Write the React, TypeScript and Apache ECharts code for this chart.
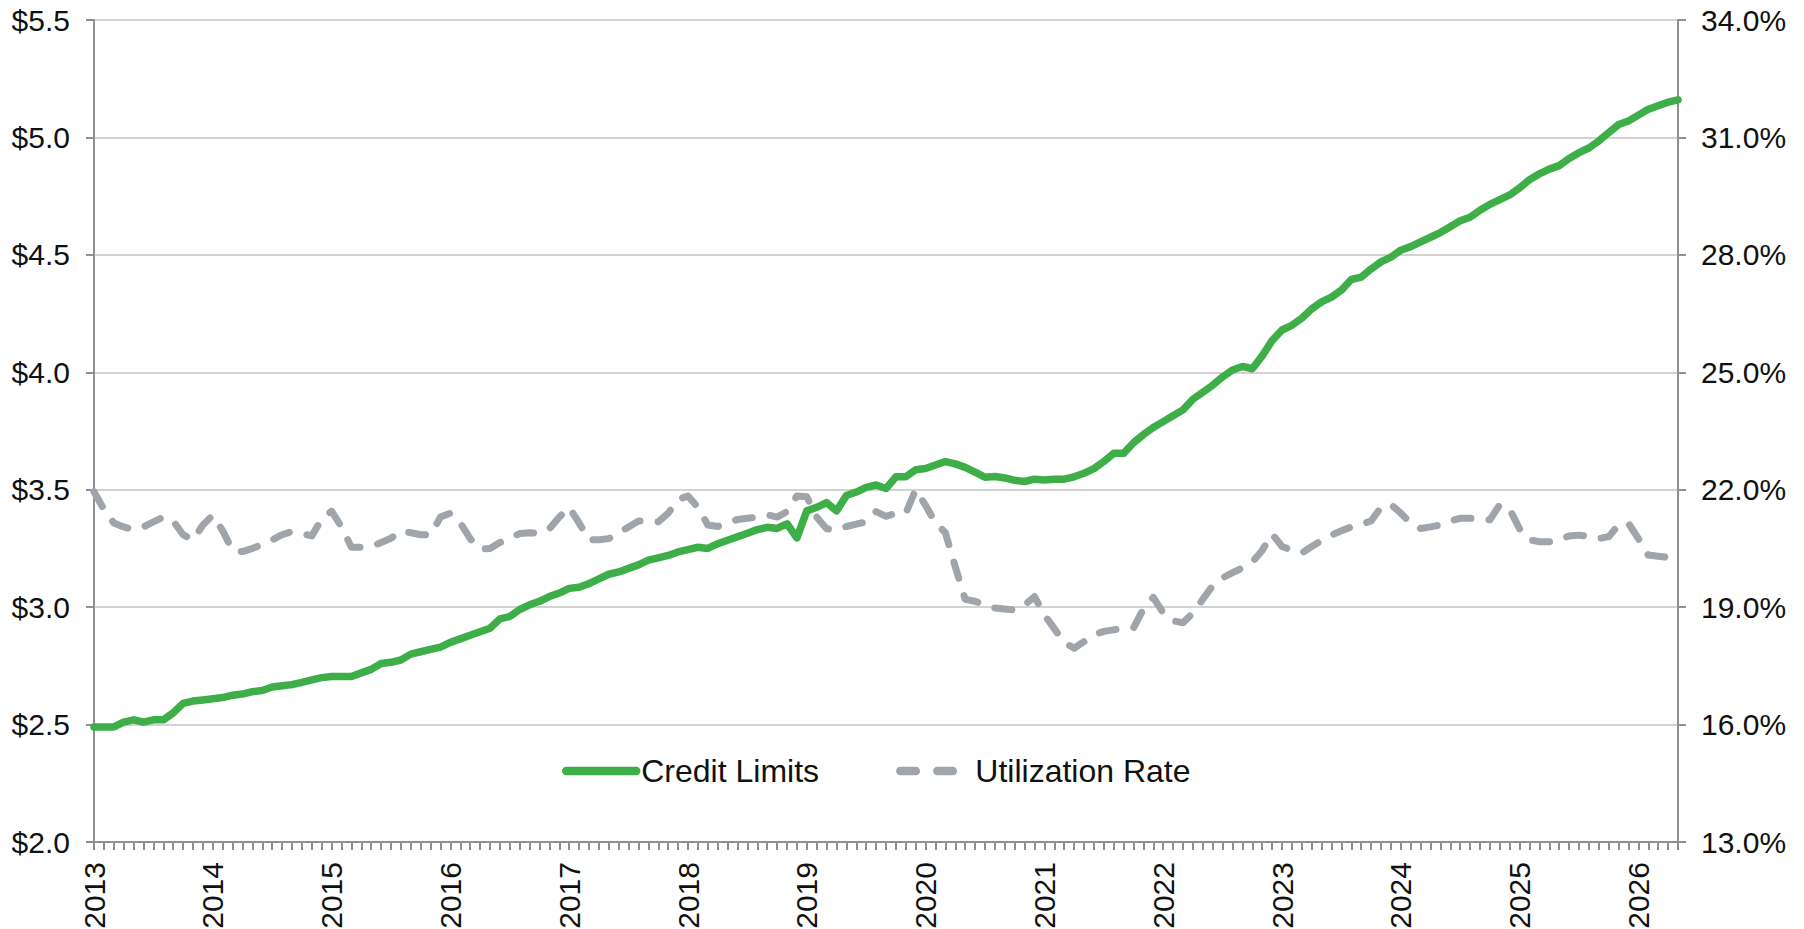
import React, { useEffect, useRef } from "react";
import * as echarts from "echarts";

// ---- Data ----
const START_YEAR = 2013;
const MONTH_COUNT = 161; // Jan 2013 .. May 2026

const categories: string[] = [];
for (let i = 0; i < MONTH_COUNT; i++) {
  const y = START_YEAR + Math.floor(i / 12);
  const m = (i % 12) + 1;
  categories.push(`${y}-${m < 10 ? "0" + m : m}`);
}

// Credit limits, $ trillions, monthly
const creditLimits: number[] = [
  2.49, 2.49, 2.49, 2.51, 2.52, 2.51, 2.52, 2.52, 2.55, 2.59, 2.6, 2.605,
  2.61, 2.615, 2.625, 2.63, 2.64, 2.645, 2.66, 2.665, 2.67, 2.68, 2.69, 2.7,
  2.705, 2.705, 2.705, 2.72, 2.735, 2.76, 2.765, 2.775, 2.8, 2.81, 2.82, 2.83,
  2.85, 2.865, 2.88, 2.895, 2.91, 2.95, 2.96, 2.99, 3.01, 3.025, 3.045, 3.06,
  3.08, 3.085, 3.1, 3.12, 3.14, 3.15, 3.165, 3.18, 3.2, 3.21, 3.22, 3.235,
  3.245, 3.255, 3.25, 3.27, 3.285, 3.3, 3.315, 3.33, 3.34, 3.335, 3.355, 3.295,
  3.41, 3.425, 3.445, 3.41, 3.475, 3.49, 3.51, 3.52, 3.505, 3.555, 3.555, 3.585,
  3.59, 3.605, 3.62, 3.61, 3.595, 3.575, 3.553, 3.556, 3.55, 3.54, 3.535, 3.545,
  3.541, 3.545, 3.545, 3.555, 3.57, 3.59, 3.62, 3.655, 3.655, 3.7, 3.735, 3.765,
  3.79, 3.815, 3.84, 3.885, 3.915, 3.945, 3.98, 4.01, 4.025, 4.015, 4.07, 4.135,
  4.18, 4.2, 4.23, 4.27, 4.3, 4.32, 4.35, 4.395, 4.405, 4.44, 4.47, 4.49,
  4.52, 4.535, 4.555, 4.575, 4.595, 4.62, 4.645, 4.66, 4.69, 4.715, 4.735, 4.755,
  4.785, 4.82, 4.845, 4.865, 4.88, 4.91, 4.935, 4.955, 4.985, 5.02, 5.055, 5.07,
  5.095, 5.12, 5.135, 5.15, 5.16,
];

// Utilization rate, %, monthly
const utilizationRate: number[] = [
  21.95, 21.5, 21.15, 21.05, 20.98, 21.05, 21.18, 21.3, 21.2, 20.85, 20.72, 21.1,
  21.35, 20.95, 20.45, 20.42, 20.5, 20.6, 20.72, 20.85, 20.93, 20.88, 20.82, 21.25,
  21.45, 21.05, 20.53, 20.53, 20.55, 20.65, 20.76, 20.95, 20.9, 20.85, 20.85, 21.3,
  21.4, 21.15, 20.75, 20.48, 20.5, 20.65, 20.76, 20.88, 20.9, 20.89, 21.0, 21.3,
  21.55, 21.15, 20.72, 20.72, 20.75, 20.9, 21.05, 21.2, 21.2, 21.18, 21.4, 21.75,
  21.84, 21.55, 21.1, 21.06, 21.15, 21.24, 21.27, 21.3, 21.36, 21.3, 21.44, 21.84,
  21.82, 21.3, 21.0, 20.97, 21.06, 21.12, 21.18, 21.44, 21.32, 21.4, 21.4, 22.0,
  21.6, 21.15, 20.9, 20.03, 19.2, 19.15, 19.05, 18.98, 18.95, 18.93, 19.05, 19.27,
  18.8, 18.45, 18.1, 17.95, 18.12, 18.3, 18.38, 18.42, 18.45, 18.47, 18.95, 19.25,
  18.85, 18.65, 18.6, 18.85, 19.2, 19.55, 19.75, 19.88, 20.0, 20.15, 20.45, 20.87,
  20.55, 20.45, 20.38, 20.55, 20.7, 20.84, 20.95, 21.05, 21.12, 21.2, 21.55, 21.62,
  21.4, 21.15, 21.01, 21.05, 21.1, 21.2, 21.27, 21.27, 21.26, 21.23, 21.62, 21.5,
  21.0, 20.72, 20.67, 20.67, 20.72, 20.82, 20.84, 20.8, 20.75, 20.8, 21.1, 21.14,
  20.75, 20.33, 20.3, 20.27, 20.25,
];

const leftMin = 2;
const leftMax = 5.5;
const leftStep = 0.5;
const rightTicks: number[] = [13, 16, 19, 22, 25, 28, 31, 34];

const SERIES_NAMES = ["Credit Limits", "Utilization Rate"];

// ---- Styles ----
const FONT = "'Liberation Sans', Arial, Helvetica, sans-serif";
const GREEN = "#3EAE49";
const GRAY = "#A0A4AB";
const AXIS = "#8E9095";
const GRID = "#C4C4C4";
const TEXT = "#111111";
const DASH = [17, 18];
const LEGEND_DASH = [15.5, 21.5];
const AXIS_FONT = 30;

export default function App() {
  const ref = useRef<HTMLDivElement>(null);

  useEffect(() => {
    if (!ref.current) return;
    const chart = echarts.init(ref.current, null, { renderer: "svg" });

    const option: any = {
      animation: false,
      backgroundColor: "#ffffff",
      grid: {
        left: 94,
        right: 126,
        top: 20,
        bottom: 87,
        containLabel: false,
        outerBoundsMode: "none",
      },
      legend: {
        left: 562,
        top: 755,
        padding: 0,
        itemGap: 77,
        itemWidth: 70,
        itemHeight: 14,
        selectedMode: false,
        textStyle: { fontSize: 32, color: TEXT, fontFamily: FONT },
        data: [
          {
            name: SERIES_NAMES[0],
            itemStyle: { opacity: 0 },
            lineStyle: { width: 8.5, color: GREEN, cap: "round", type: "solid" },
          },
          {
            name: SERIES_NAMES[1],
            itemStyle: { opacity: 0 },
            lineStyle: { width: 8.5, color: GRAY, cap: "round", type: LEGEND_DASH },
          },
        ],
      },
      xAxis: {
        type: "category",
        data: categories,
        boundaryGap: false,
        axisLine: { show: true, lineStyle: { color: AXIS, width: 2 } },
        axisTick: {
          show: true,
          interval: 0,
          length: 8,
          lineStyle: { color: AXIS, width: 2 },
        },
        axisLabel: {
          interval: 11,
          rotate: 90,
          margin: 20,
          fontSize: AXIS_FONT,
          color: TEXT,
          fontFamily: FONT,
          formatter: (v: string) => v.slice(0, 4),
        },
        splitLine: { show: false },
      },
      yAxis: [
        {
          type: "value",
          position: "left",
          min: leftMin,
          max: leftMax,
          interval: leftStep,
          axisLine: { show: true, lineStyle: { color: AXIS, width: 2 } },
          axisTick: { show: true, length: 8, lineStyle: { color: AXIS, width: 2 } },
          axisLabel: {
            margin: 24,
            fontSize: AXIS_FONT,
            color: TEXT,
            fontFamily: FONT,
            formatter: (v: number) => "$" + v.toFixed(1),
          },
          splitLine: { show: true, lineStyle: { color: GRID, width: 1.5 } },
        },
        {
          type: "value",
          position: "right",
          min: rightTicks[0],
          max: rightTicks[rightTicks.length - 1],
          axisLine: { show: true, lineStyle: { color: AXIS, width: 2 } },
          axisTick: {
            show: true,
            length: 8,
            customValues: rightTicks,
            lineStyle: { color: AXIS, width: 2 },
          },
          axisLabel: {
            margin: 23,
            fontSize: AXIS_FONT,
            color: TEXT,
            fontFamily: FONT,
            customValues: rightTicks,
            formatter: (v: number) => v.toFixed(1) + "%",
          },
          splitLine: { show: false },
        },
      ],
      series: [
        {
          name: SERIES_NAMES[0],
          type: "line",
          yAxisIndex: 0,
          data: creditLimits,
          symbol: "none",
          showSymbol: false,
          smooth: false,
          z: 3,
          lineStyle: { color: GREEN, width: 7.5, cap: "round", join: "round" },
          itemStyle: { color: GREEN },
        },
        {
          name: SERIES_NAMES[1],
          type: "line",
          yAxisIndex: 1,
          data: utilizationRate,
          symbol: "none",
          showSymbol: false,
          smooth: false,
          z: 2,
          lineStyle: { color: GRAY, width: 7, type: DASH, cap: "round", join: "round" },
          itemStyle: { color: GRAY },
        },
      ],
    };

    chart.setOption(option);
    return () => chart.dispose();
  }, []);

  return (
    <div
      ref={ref}
      style={{ position: "fixed", left: 0, top: 0, width: 1804, height: 929, background: "#fff" }}
    />
  );
}
